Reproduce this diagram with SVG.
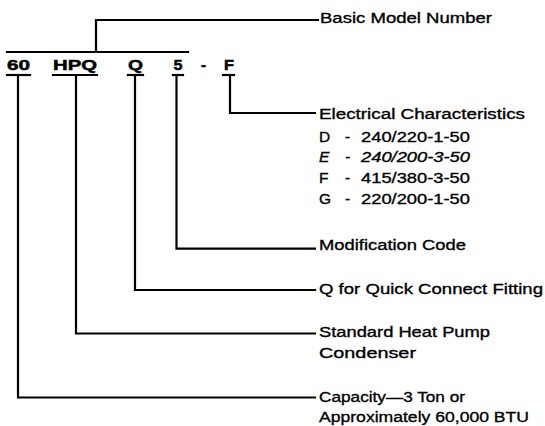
<svg xmlns="http://www.w3.org/2000/svg" width="545" height="426" viewBox="0 0 545 426">
  <style>
    .lbl { font-family: "Liberation Sans", Arial, Helvetica, sans-serif; font-size: 15.5px; fill: #000; stroke: #000; stroke-width: 0.35; }
    .it { font-style: italic; }
    .code { font-family: "Liberation Sans", Arial, Helvetica, sans-serif; font-size: 15px; font-weight: bold; fill: #000; stroke: #000; stroke-width: 0.5; }
    .ln { stroke: #000; stroke-width: 2.2; fill: none; stroke-linecap: square; stroke-linejoin: miter; }
  </style>
  <rect width="545" height="426" fill="#fff"/>

  <g id="connectors" class="ln">
    <path d="M7 52 H188"/>
    <path d="M96 52 V20 H318"/>
    <path d="M230 76 V113 H315"/>
    <path d="M176.5 76 V248.7 H315"/>
    <path d="M135 76 V290 H315"/>
    <path d="M76 76 V333.5 H315"/>
    <path d="M18 76 V397.5 H315"/>
  </g>

  <g id="code-60">
    <text class="code" x="7" y="70" textLength="23" lengthAdjust="spacingAndGlyphs">60</text>
    <path class="ln" d="M7 75 H30"/>
  </g>
  <g id="code-HPQ">
    <text class="code" x="53" y="70" textLength="44" lengthAdjust="spacingAndGlyphs">HPQ</text>
    <path class="ln" d="M53 75 H97"/>
  </g>
  <g id="code-Q">
    <text class="code" x="128" y="70" textLength="15" lengthAdjust="spacingAndGlyphs">Q</text>
    <path class="ln" d="M128 75 H143"/>
  </g>
  <g id="code-5">
    <text class="code" x="173.5" y="70" textLength="9" lengthAdjust="spacingAndGlyphs">5</text>
    <path class="ln" d="M173 75 H183"/>
  </g>
  <g id="code-dash">
    <text class="code" x="201" y="70">-</text>
  </g>
  <g id="code-F">
    <text class="code" x="224" y="70" textLength="10" lengthAdjust="spacingAndGlyphs">F</text>
    <path class="ln" d="M223 75 H234"/>
  </g>

  <g id="basic-model">
    <text class="lbl" x="320" y="22.5" textLength="172" lengthAdjust="spacingAndGlyphs">Basic Model Number</text>
  </g>
  <g id="electrical">
    <text class="lbl" x="319" y="119" textLength="206" lengthAdjust="spacingAndGlyphs">Electrical Characteristics</text>
    <text class="lbl" y="141.5"><tspan x="319">D</tspan><tspan x="345">-</tspan><tspan x="361" textLength="109" lengthAdjust="spacingAndGlyphs">240/220-1-50</tspan></text>
    <text class="lbl it" y="162"><tspan x="319">E</tspan><tspan x="345">-</tspan><tspan x="361" textLength="109" lengthAdjust="spacingAndGlyphs">240/200-3-50</tspan></text>
    <text class="lbl" y="182.5"><tspan x="319">F</tspan><tspan x="345">-</tspan><tspan x="361" textLength="109" lengthAdjust="spacingAndGlyphs">415/380-3-50</tspan></text>
    <text class="lbl" y="203.5"><tspan x="319">G</tspan><tspan x="345">-</tspan><tspan x="361" textLength="109" lengthAdjust="spacingAndGlyphs">220/200-1-50</tspan></text>
  </g>
  <g id="modification">
    <text class="lbl" x="319" y="249.5" textLength="147" lengthAdjust="spacingAndGlyphs">Modification Code</text>
  </g>
  <g id="quick-connect">
    <text class="lbl" x="319" y="294" textLength="224" lengthAdjust="spacingAndGlyphs">Q for Quick Connect Fitting</text>
  </g>
  <g id="heat-pump">
    <text class="lbl" x="319" y="337" textLength="171" lengthAdjust="spacingAndGlyphs">Standard Heat Pump</text>
    <text class="lbl" x="319" y="358" textLength="97" lengthAdjust="spacingAndGlyphs">Condenser</text>
  </g>
  <g id="capacity">
    <text class="lbl" x="319" y="402" textLength="146" lengthAdjust="spacingAndGlyphs">Capacity—3 Ton or</text>
    <text class="lbl" x="319" y="422" textLength="210" lengthAdjust="spacingAndGlyphs">Approximately 60,000 BTU</text>
  </g>
</svg>
